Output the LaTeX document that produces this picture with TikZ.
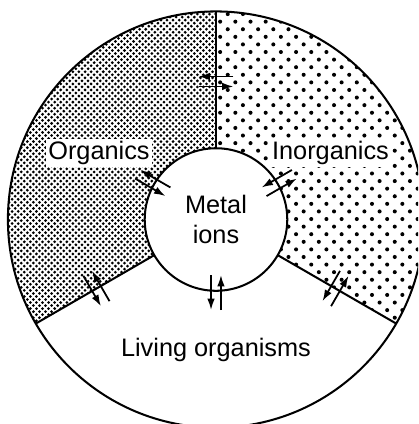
\documentclass[tikz,border=0pt]{standalone}
\usepackage{fontspec}
\setmainfont{Liberation Sans}
\usetikzlibrary{arrows.meta,patterns}

\pgfdeclarepatternformonly{organic dots}{\pgfqpoint{-.6pt}{-.6pt}}{\pgfqpoint{1.8pt}{1.8pt}}{\pgfqpoint{2.4pt}{2.4pt}}{%
  \pgfpathcircle{\pgfqpoint{0pt}{0pt}}{.6pt}%
  \pgfpathcircle{\pgfqpoint{1.2pt}{1.2pt}}{.6pt}%
  \pgfusepath{fill}}
\pgfdeclarepatternformonly{inorganic dots}{\pgfqpoint{-1pt}{-1pt}}{\pgfqpoint{5pt}{5pt}}{\pgfqpoint{6pt}{6pt}}{%
  \pgfpathcircle{\pgfqpoint{0pt}{0pt}}{.8pt}%
  \pgfpathcircle{\pgfqpoint{3pt}{3pt}}{.8pt}%
  \pgfusepath{fill}}

\tikzset{
  rim/.style={line width=0.8pt},
  flux/.style={line width=0.7pt,-{Latex[length=4.5pt,width=3pt]}},
  pool/.style={fill=white,inner sep=1pt}
}

\begin{document}
\begin{tikzpicture}[scale=1.0]
  \clip (-3.0,-2.84) rectangle (2.806,3.049);
  \fill[pattern=organic dots] (90:2.89) arc (90:210:2.89) -- (210:0.99) arc (210:90:0.99) -- cycle;
  \fill[pattern=inorganic dots] (-30:2.89) arc (-30:90:2.89) -- (90:0.99) arc (90:-30:0.99) -- cycle;
  \draw[rim] (0,0) circle (2.89);
  \draw[rim] (0,0) circle (0.99);
  \draw[rim] (90:0.99) -- (90:2.89);
  \draw[rim] (210:0.99) -- (210:2.89);
  \draw[rim] (-30:0.99) -- (-30:2.89);
  \node[pool] (organics) at (-1.625,0.924) {Organics};
  \node[pool] (inorganics) at (1.59,0.924) {Inorganics};
  \node[align=center] (metal) at (0,0) {Metal\\ions};
  \node (living) at (0,-1.806) {Living organisms};
  % exchange with the metal ions
  \draw[flux,shift={(150:1.014)},rotate=150] (-0.243,-0.069) -- (0.243,-0.069);
  \draw[flux,shift={(150:1.014)},rotate=150] (0.243,0.069) -- (-0.243,0.069);
  \draw[flux,shift={(30:1.014)},rotate=30] (-0.243,-0.069) -- (0.243,-0.069);
  \draw[flux,shift={(30:1.014)},rotate=30] (0.243,0.069) -- (-0.243,0.069);
  \draw[flux,shift={(270:1.014)},rotate=270] (-0.243,-0.069) -- (0.243,-0.069);
  \draw[flux,shift={(270:1.014)},rotate=270] (0.243,0.069) -- (-0.243,0.069);
  % exchange across the ring
  \draw[flux,shift={(90:1.917)},rotate=180] (-0.243,-0.069) -- (0.243,-0.069);
  \draw[flux,shift={(90:1.917)},rotate=180] (0.243,0.069) -- (-0.243,0.069);
  \draw[flux,shift={(210:1.917)},rotate=300] (-0.243,-0.069) -- (0.243,-0.069);
  \draw[flux,shift={(210:1.917)},rotate=300] (0.243,0.069) -- (-0.243,0.069);
  \draw[flux,shift={(330:1.917)},rotate=60] (-0.243,-0.069) -- (0.243,-0.069);
  \draw[flux,shift={(330:1.917)},rotate=60] (0.243,0.069) -- (-0.243,0.069);
\end{tikzpicture}
\end{document}
